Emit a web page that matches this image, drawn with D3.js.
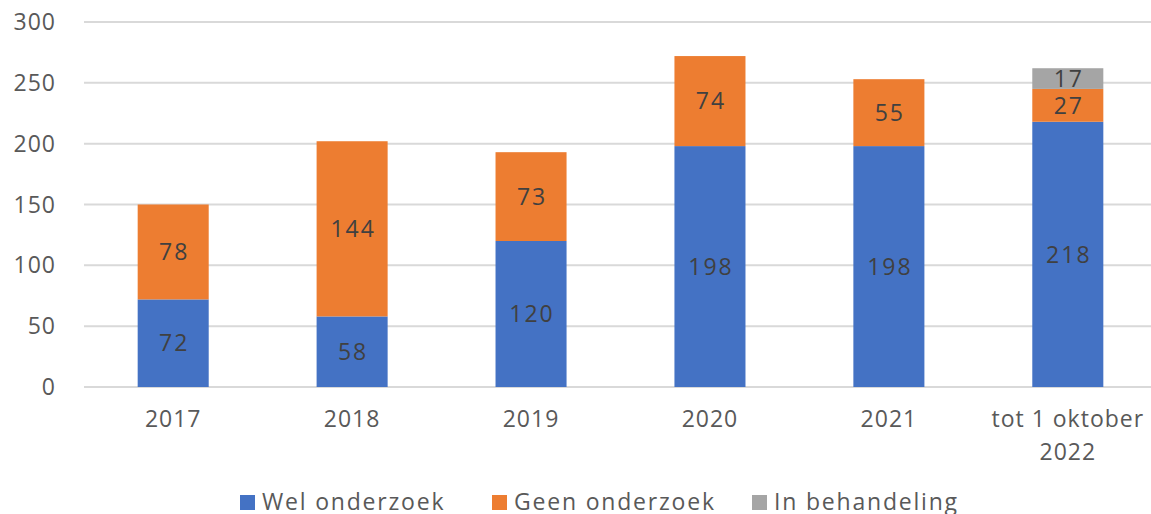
<!DOCTYPE html>
<html>
<head>
<meta charset="utf-8">
<script src="https://cdn.jsdelivr.net/npm/d3@7"></script>
<style>
  body { margin: 0; background: #fff; }
  text { font-family: "Open Sans", sans-serif; }
</style>
</head>
<body>
<div id="chart-area"></div>
<script>
// data
var categories = ["2017", "2018", "2019", "2020", "2021", "tot 1 oktober 2022"];
var welOnderzoek = [72, 58, 120, 198, 198, 218];
var geenOnderzoek = [78, 144, 73, 74, 55, 27];
var inBehandeling = [0, 0, 0, 0, 0, 17];
var seriesNames = ["Wel onderzoek", "Geen onderzoek", "In behandeling"];
var yTicks = [0, 50, 100, 150, 200, 250, 300];

var colors = ["#4472C4", "#ED7D31", "#A5A5A5"];

var width = 1151, height = 514;

var svg = d3.select("#chart-area")
    .append("svg")
        .attr("width", width)
        .attr("height", height);

var x = d3.scaleBand()
    .domain(categories)
    .range([84, 1157])
    .paddingInner(0.603)
    .paddingOuter(0.3);

var y = d3.scaleLinear()
    .domain([0, 300])
    .range([387, 22]);

// gridlines
svg.append("g")
    .selectAll("line")
    .data(yTicks)
    .enter()
    .append("line")
        .attr("x1", 84)
        .attr("x2", width)
        .attr("y1", (d) => y(d))
        .attr("y2", (d) => y(d))
        .attr("stroke", "#D9D9D9")
        .attr("stroke-width", 2);

// y labels
svg.append("g")
    .selectAll("text")
    .data(yTicks)
    .enter()
    .append("text")
        .attr("x", 56)
        .attr("y", (d) => y(d))
        .attr("dy", "0.35em")
        .attr("text-anchor", "end")
        .attr("font-size", "23px")
        .attr("letter-spacing", "1px")
        .attr("fill", "#595959")
        .text((d) => d);

// stacked data
var rows = categories.map((c, i) => ({
    cat: c,
    wel: welOnderzoek[i],
    geen: geenOnderzoek[i],
    behandeling: inBehandeling[i]
}));
var stack = d3.stack().keys(["wel", "geen", "behandeling"]);
var stacked = stack(rows);

var layers = svg.selectAll("g.layer")
    .data(stacked)
    .enter()
    .append("g")
        .attr("class", "layer")
        .attr("fill", (d, i) => colors[i]);

layers.selectAll("rect")
    .data((d) => d.filter((s) => s[1] - s[0] > 0))
    .enter()
    .append("rect")
        .attr("x", (d) => x(d.data.cat))
        .attr("width", x.bandwidth())
        .attr("y", (d) => y(d[1]))
        .attr("height", (d) => y(d[0]) - y(d[1]));

layers.selectAll("text")
    .data((d) => d.filter((s) => s[1] - s[0] > 0))
    .enter()
    .append("text")
        .attr("x", (d) => x(d.data.cat) + x.bandwidth() / 2 + 1)
        .attr("y", (d) => (y(d[0]) + y(d[1])) / 2)
        .attr("dy", "0.36em")
        .attr("text-anchor", "middle")
        .attr("font-size", "23px")
        .attr("letter-spacing", "2px")
        .attr("fill", "#404040")
        .text((d) => d[1] - d[0]);

// category labels
var catLabels = svg.append("g")
    .selectAll("text")
    .data(categories)
    .enter()
    .append("text")
        .attr("x", (d) => x(d) + x.bandwidth() / 2)
        .attr("y", 427)
        .attr("text-anchor", "middle")
        .attr("font-size", "23px")
        .attr("letter-spacing", "1px")
        .attr("fill", "#595959");

catLabels.each(function(d) {
    var el = d3.select(this);
    if (d === "tot 1 oktober 2022") {
        el.append("tspan").attr("x", x(d) + x.bandwidth() / 2).text("tot 1 oktober");
        el.append("tspan").attr("x", x(d) + x.bandwidth() / 2).attr("dy", 33).text("2022");
    } else {
        el.text(d);
    }
});

// legend
var legendX = [240, 492, 752];
var legend = svg.append("g")
    .selectAll("g")
    .data(seriesNames)
    .enter()
    .append("g")
        .attr("transform", (d, i) => "translate(" + legendX[i] + ",0)");

legend.append("rect")
    .attr("x", 0)
    .attr("y", 495)
    .attr("width", 15)
    .attr("height", 15)
    .attr("fill", (d, i) => colors[i]);

legend.append("text")
    .attr("x", 22)
    .attr("y", 510)
    .attr("font-size", "23px")
    .attr("letter-spacing", "1.8px")
    .attr("fill", "#595959")
    .text((d) => d);
</script>
</body>
</html>
